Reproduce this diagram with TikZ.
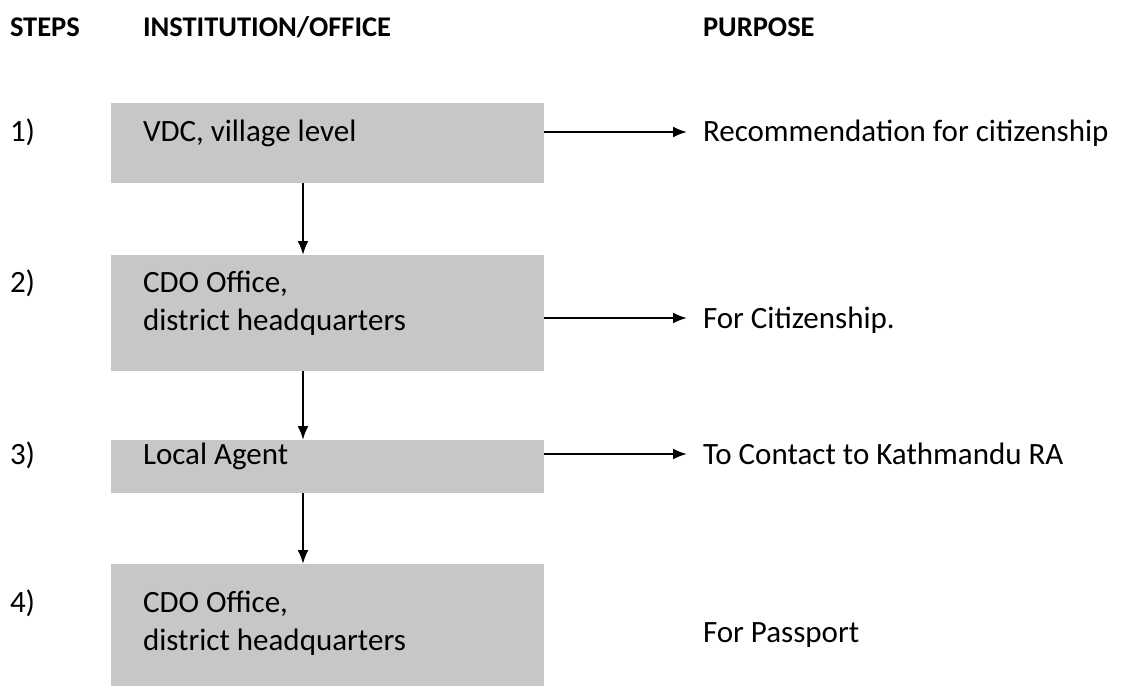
\documentclass[tikz,border=0pt]{standalone}
\usepackage{fontspec}
\setmainfont{Carlito}
\usetikzlibrary{arrows.meta}
\definecolor{boxgray}{RGB}{199,199,199}
\begin{document}
\begin{tikzpicture}[x=1pt,y=-1pt,
  every node/.style={font=\fontsize{31}{38}\selectfont, inner sep=0pt, outer sep=0pt},
  hdr/.style={font=\fontsize{28.5}{38}\selectfont\bfseries, anchor=base west},
  txt/.style={anchor=base west},
  boxtxt/.style={anchor=base west, text width=400pt, align=flush left},
  office/.style={fill=boxgray, anchor=north west, minimum width=433pt},
  conn/.style={line width=2.2pt, -{Latex[length=14pt,width=11pt]}}]
\useasboundingbox (0,0) rectangle (1126,687);
\node[hdr] (h1) at (10,37) {STEPS};
\node[hdr] (h2) at (143,37) {INSTITUTION/OFFICE};
\node[hdr] (h3) at (703,37) {PURPOSE};

\node[office, minimum height=80pt] (b1) at (111,103) {};
\node[office, minimum height=116pt] (b2) at (111,255) {};
\node[office, minimum height=53pt] (b3) at (111,440) {};
\node[office, minimum height=122pt] (b4) at (111,564) {};

\node[boxtxt] (t1) at (143,142) {VDC, village level};
\node[boxtxt] (t2) at (143,292) {CDO Office,\\district headquarters};
\node[boxtxt] (t3) at (143,464) {Local Agent};
\node[boxtxt] (t4) at (143,612) {CDO Office,\\district headquarters};

\node[txt] (s1) at (10,142) {1)};
\node[txt] (s2) at (10,292) {2)};
\node[txt] (s3) at (10,464) {3)};
\node[txt] (s4) at (10,612) {4)};

\node[txt] (p1) at (703,142) {Recommendation for citizenship};
\node[txt] (p2) at (703,328) {For Citizenship.};
\node[txt] (p3) at (703,464) {To Contact to Kathmandu RA};
\node[txt] (p4) at (703,642) {For Passport};

\coordinate (a1) at ([xshift=-16pt,yshift=10pt]p1.base west);
\coordinate (a2) at ([xshift=-16pt,yshift=10pt]p2.base west);
\coordinate (a3) at ([xshift=-16pt,yshift=10pt]p3.base west);
\coordinate (vx) at (303,0);

\draw[conn] (b1.east |- a1) -- (a1);
\draw[conn] (b2.east |- a2) -- (a2);
\draw[conn] (b3.east |- a3) -- (a3);

\draw[conn] (b1.south -| vx) -- (b2.north -| vx);
\draw[conn] (b2.south -| vx) -- (b3.north -| vx);
\draw[conn] (b3.south -| vx) -- (b4.north -| vx);
\end{tikzpicture}
\end{document}
